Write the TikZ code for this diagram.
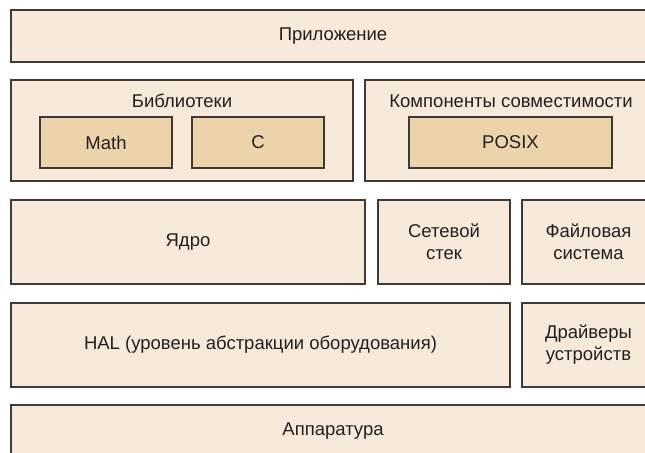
\documentclass[tikz,border=0pt]{standalone}
\usepackage{fontspec}
\setmainfont{Liberation Sans}
\definecolor{outerfill}{HTML}{F7EADA}
\definecolor{innerfill}{HTML}{EDD3A9}
\definecolor{edge}{HTML}{3D3A37}
\definecolor{txt}{HTML}{231F20}
\tikzset{
  layer/.style={draw=edge, fill=outerfill, line width=1.3bp, inner sep=0pt, outer sep=0pt,
    anchor=north west, align=center, text=txt, font=\fontsize{18.5bp}{22bp}\selectfont},
  sub/.style={layer, fill=innerfill},
  caption/.style={inner sep=0pt, text=txt, font=\fontsize{18.5bp}{22bp}\selectfont}
}
\begin{document}
\begin{tikzpicture}[x=1bp,y=-1bp]
\useasboundingbox (0,0) rectangle (645,453);
\clip (0,0) rectangle (645,453);
% row 1
\node[layer, minimum width=644bp, minimum height=52bp] (app) at (11,10) {Приложение};
% row 2
\node[layer, minimum width=342bp, minimum height=101bp] (libs) at (11,80) {};
\node[caption] (libslabel) at (182,101) {Библиотеки};
\node[sub, minimum width=132bp, minimum height=51bp] (math) at (40,117) {Math};
\node[sub, minimum width=132bp, minimum height=51bp] (clib) at (192,117) {C};
\node[layer, minimum width=290bp, minimum height=101bp] (compat) at (365,80) {};
\node[caption] (compatlabel) at (511,101) {Компоненты совместимости};
\node[sub, minimum width=203bp, minimum height=51bp] (posix) at (409,117) {POSIX};
% row 3
\node[layer, minimum width=354bp, minimum height=84bp] (kernel) at (11,200) {Ядро};
\node[layer, minimum width=132bp, minimum height=84bp] (net) at (378,200) {Сетевой\\стек};
\node[layer, minimum width=133bp, minimum height=84bp] (fs) at (522,200) {Файловая\\система};
% row 4
\node[layer, minimum width=499bp, minimum height=84bp] (hal) at (11,303) {HAL (уровень абстракции оборудования)};
\node[layer, minimum width=133bp, minimum height=84bp] (drv) at (522,303) {Драйверы\\устройств};
% row 5
\node[layer, minimum width=644bp, minimum height=52bp] (hw) at (11,405) {Аппаратура};
\end{tikzpicture}
\end{document}
